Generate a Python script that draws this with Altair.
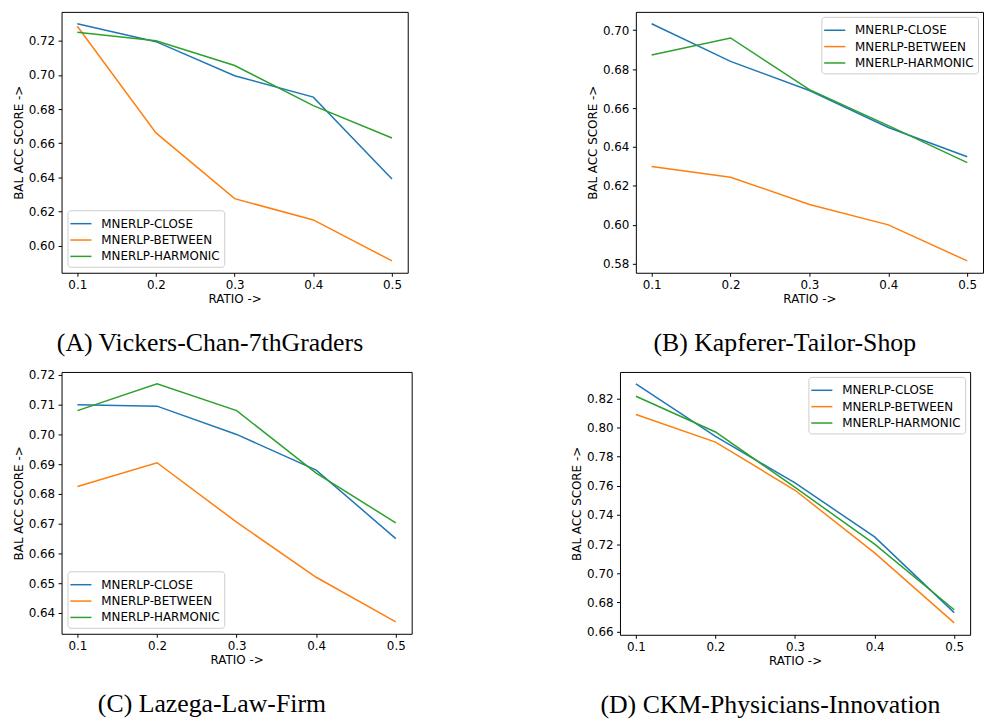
import altair as alt
import pandas as pd

RATIOS = [0.1, 0.2, 0.3, 0.4, 0.5]
METHODS = ["MNERLP-CLOSE", "MNERLP-BETWEEN", "MNERLP-HARMONIC"]
COLORS = ["#1f77b4", "#ff7f0e", "#2ca02c"]

# (A) Vickers-Chan-7thGraders
A_CLOSE = [0.730, 0.7195, 0.6995, 0.687, 0.639]
A_BETWEEN = [0.7285, 0.666, 0.6275, 0.615, 0.591]
A_HARMONIC = [0.725, 0.720, 0.7055, 0.682, 0.663]
A_TICKS = [0.60, 0.62, 0.64, 0.66, 0.68, 0.70, 0.72]

# (B) Kapferer-Tailor-Shop
B_CLOSE = [0.7033, 0.684, 0.669, 0.650, 0.635]
B_BETWEEN = [0.630, 0.6245, 0.6105, 0.600, 0.5815]
B_HARMONIC = [0.6873, 0.696, 0.6695, 0.651, 0.632]
B_TICKS = [0.58, 0.60, 0.62, 0.64, 0.66, 0.68, 0.70]

# (C) Lazega-Law-Firm
C_CLOSE = [0.710, 0.7095, 0.700, 0.688, 0.665]
C_BETWEEN = [0.6825, 0.6905, 0.6705, 0.652, 0.637]
C_HARMONIC = [0.708, 0.717, 0.708, 0.687, 0.6703]
C_TICKS = [0.64, 0.65, 0.66, 0.67, 0.68, 0.69, 0.70, 0.71, 0.72]

# (D) CKM-Physicians-Innovation
D_CLOSE = [0.830, 0.794, 0.762, 0.725, 0.673]
D_BETWEEN = [0.809, 0.790, 0.757, 0.714, 0.666]
D_HARMONIC = [0.8215, 0.797, 0.759, 0.720, 0.675]
D_TICKS = [0.66, 0.68, 0.70, 0.72, 0.74, 0.76, 0.78, 0.80, 0.82]

CAPTIONS = ["(A) Vickers-Chan-7thGraders", "(B) Kapferer-Tailor-Shop",
            "(C) Lazega-Law-Firm", "(D) CKM-Physicians-Innovation"]

FONT = "DejaVu Sans"


def panel(close, between, harmonic, ticks, caption, legend_orient, legend_offset, w, h):
    rows = []
    for name, vals in zip(METHODS, [close, between, harmonic]):
        for r, v in zip(RATIOS, vals):
            rows.append({"ratio": r, "score": v, "method": name})
    df = pd.DataFrame(rows)
    allv = close + between + harmonic
    lo, hi = min(allv), max(allv)
    pad = 0.05 * (hi - lo)
    xpad = 0.05 * (RATIOS[-1] - RATIOS[0])
    return alt.Chart(df).mark_line(strokeWidth=1.5).encode(
        x=alt.X("ratio:Q",
                scale=alt.Scale(domain=[RATIOS[0] - xpad, RATIOS[-1] + xpad], nice=False, zero=False),
                axis=alt.Axis(values=RATIOS, format=".1f", title="RATIO ->")),
        y=alt.Y("score:Q",
                scale=alt.Scale(domain=[lo - pad, hi + pad], nice=False, zero=False),
                axis=alt.Axis(values=ticks, format=".2f", title="BAL ACC SCORE ->")),
        color=alt.Color("method:N",
                        scale=alt.Scale(domain=METHODS, range=COLORS),
                        legend=alt.Legend(orient=legend_orient, title=None, offset=legend_offset)),
        detail="method:N",
    ).properties(
        width=w, height=h,
        title=alt.TitleParams(text=caption, orient="bottom", anchor="middle",
                              frame="bounds", offset=26),
    )


pa = panel(A_CLOSE, A_BETWEEN, A_HARMONIC, A_TICKS, CAPTIONS[0], "bottom-left", 6, 349, 263)
pb = panel(B_CLOSE, B_BETWEEN, B_HARMONIC, B_TICKS, CAPTIONS[1], "top-right", 5, 350, 263)
pc = panel(C_CLOSE, C_BETWEEN, C_HARMONIC, C_TICKS, CAPTIONS[2], "bottom-left", 6, 353, 264)
pd_ = panel(D_CLOSE, D_BETWEEN, D_HARMONIC, D_TICKS, CAPTIONS[3], "top-right", 5, 353, 265)

top = alt.hconcat(pa, pb, spacing=178).resolve_scale(color="independent").resolve_legend(color="independent")
bottom = alt.hconcat(pc, pd_, spacing=158).resolve_scale(color="independent").resolve_legend(color="independent")

chart = alt.vconcat(top, bottom, spacing=11).resolve_scale(color="independent").resolve_legend(
    color="independent"
).properties(padding={"left": 3, "top": 0, "right": 0, "bottom": 0}).configure(
    font=FONT,
).configure_view(
    stroke="black", strokeWidth=1,
).configure_axis(
    grid=False,
    domain=False,
    labelFont=FONT, titleFont=FONT,
    labelFontSize=12, titleFontSize=12,
    labelColor="black", titleColor="black",
    titleFontWeight="normal",
    tickColor="black", tickSize=3.5, tickWidth=1,
    labelPadding=3.5, titlePadding=3,
).configure_legend(
    labelFont=FONT, labelFontSize=12, labelColor="black",
    symbolType="M-1.25,0L1.25,0", symbolSize=289, symbolStrokeWidth=1.5,
    strokeColor="#cccccc", fillColor="white", cornerRadius=3,
    padding=4, rowPadding=0.5, labelOffset=11,
).configure_title(
    font="Liberation Serif", fontSize=26, fontWeight="normal", color="black",
)

chart.save("out.html", embed_options={"renderer": "svg", "actions": False})
